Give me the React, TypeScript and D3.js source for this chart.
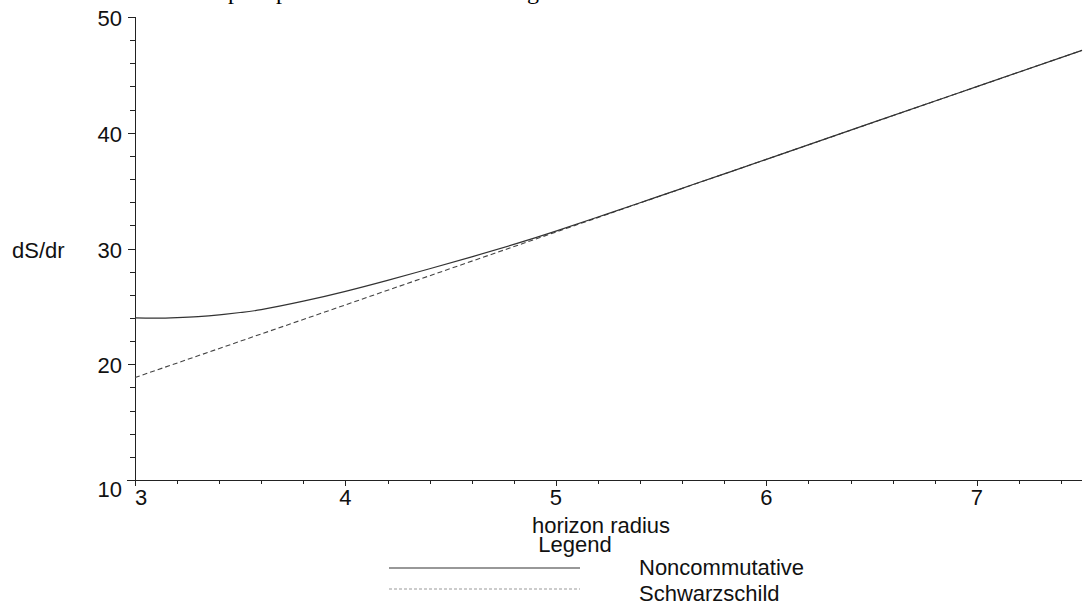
import React, { useEffect, useRef } from "react";
import * as d3 from "d3";

// horizon radius samples
const ncRadius = [3.0, 3.1, 3.2, 3.3, 3.4, 3.5, 3.6, 3.8, 4.0, 4.2, 4.4, 4.6, 4.8, 5.0, 5.2, 5.4, 5.6, 5.8, 6.0, 6.5, 7.0, 7.5];
const ncValues = [24.0, 23.98, 24.03, 24.12, 24.27, 24.47, 24.72, 25.45, 26.3, 27.25, 28.25, 29.28, 30.35, 31.5, 32.72, 33.95, 35.2, 36.45, 37.7, 40.85, 43.98, 47.12];

const swRadius = [3.0, 4.0, 5.0, 6.0, 7.0, 7.5];
const swValues = [18.85, 25.13, 31.42, 37.7, 43.98, 47.12];

const xTicks = [3, 4, 5, 6, 7];
const yTicks = [10, 20, 30, 40, 50];
const legendLabels = ["Noncommutative", "Schwarzschild"];

const W = 1092;
const H = 606;
const font = "'Liberation Sans', Arial, sans-serif";

function App() {
  const ref = useRef<SVGSVGElement>(null);

  useEffect(() => {
    const svg = d3.select(ref.current);
    svg.selectAll("*").remove();

    const x = d3.scaleLinear().domain([3, 7.5]).range([135, 1082]);
    const y = d3.scaleLinear().domain([10, 50]).range([480, 17]);

    // clipped line of page text above the figure
    const top = svg.append("g").attr("font-family", "'Liberation Serif', 'Times New Roman', serif")
      .attr("font-size", 24).attr("fill", "#000");
    [["p", 228], ["p", 276], ["g", 527]].forEach(([t, px]) => {
      top.append("text").attr("x", px as number).attr("y", -1.5).text(t as string);
    });

    // minor + major ticks
    const axes = svg.append("g").attr("stroke", "#222").attr("stroke-width", 1).attr("shape-rendering", "crispEdges");
    axes.append("line").attr("x1", x(3)).attr("x2", x(3)).attr("y1", y(50)).attr("y2", y(10) + 5);
    axes.append("line").attr("x1", x(3) - 8).attr("x2", x(7.5)).attr("y1", y(10)).attr("y2", y(10));

    d3.range(10, 50.01, 2).forEach(v => {
      const major = Math.abs(v % 10) < 1e-6;
      axes.append("line").attr("x1", x(3) - (major ? 7 : 5)).attr("x2", x(3))
        .attr("y1", Math.round(y(v)) + 0.5).attr("y2", Math.round(y(v)) + 0.5);
    });
    d3.range(3, 7.51, 0.2).forEach(v => {
      const major = Math.abs(v - Math.round(v)) < 1e-6;
      axes.append("line").attr("x1", Math.round(x(v)) + 0.5).attr("x2", Math.round(x(v)) + 0.5)
        .attr("y1", y(10)).attr("y2", y(10) + (major ? 6 : 4));
    });

    const labels = svg.append("g").attr("font-family", font).attr("font-size", 22).attr("fill", "#111");
    yTicks.forEach(v => {
      labels.append("text").attr("x", 122).attr("y", y(v) + (v === 10 ? 17 : 9))
        .attr("text-anchor", "end").text(v);
    });
    xTicks.forEach(v => {
      labels.append("text").attr("x", x(v) + (v === 3 ? 6 : 0)).attr("y", y(10) + 25)
        .attr("text-anchor", "middle").text(v);
    });
    labels.append("text").attr("x", 12).attr("y", 258).text("dS/dr");
    labels.append("text").attr("x", 601).attr("y", 533).attr("text-anchor", "middle").text("horizon radius");
    labels.append("text").attr("x", 575).attr("y", 552).attr("text-anchor", "middle").text("Legend");

    const line = d3.line<[number, number]>().x(d => x(d[0])).y(d => y(d[1])).curve(d3.curveNatural);
    const nc = ncRadius.map((r, i) => [r, ncValues[i]] as [number, number]);
    const sw = swRadius.map((r, i) => [r, swValues[i]] as [number, number]);

    svg.append("path").attr("d", line(sw)).attr("fill", "none").attr("stroke", "#444")
      .attr("stroke-width", 1.1).attr("stroke-dasharray", "5,3");
    svg.append("path").attr("d", line(nc)).attr("fill", "none").attr("stroke", "#333")
      .attr("stroke-width", 1.2);

    // legend
    const leg = svg.append("g");
    leg.append("line").attr("x1", 389).attr("x2", 580).attr("y1", 568).attr("y2", 568)
      .attr("stroke", "#333").attr("stroke-width", 1.2);
    leg.append("line").attr("x1", 389).attr("x2", 580).attr("y1", 589).attr("y2", 589)
      .attr("stroke", "#999").attr("stroke-width", 1.2).attr("stroke-dasharray", "3,2");
    legendLabels.forEach((t, i) => {
      leg.append("text").attr("x", 639).attr("y", 575 + i * 26).attr("font-family", font)
        .attr("font-size", 22).attr("fill", "#111").text(t);
    });
  }, []);

  return (
    <svg ref={ref} width={W} height={H}
      style={{ position: "absolute", left: 0, top: 0, background: "#fff", display: "block" }} />
  );
}

export default App;
